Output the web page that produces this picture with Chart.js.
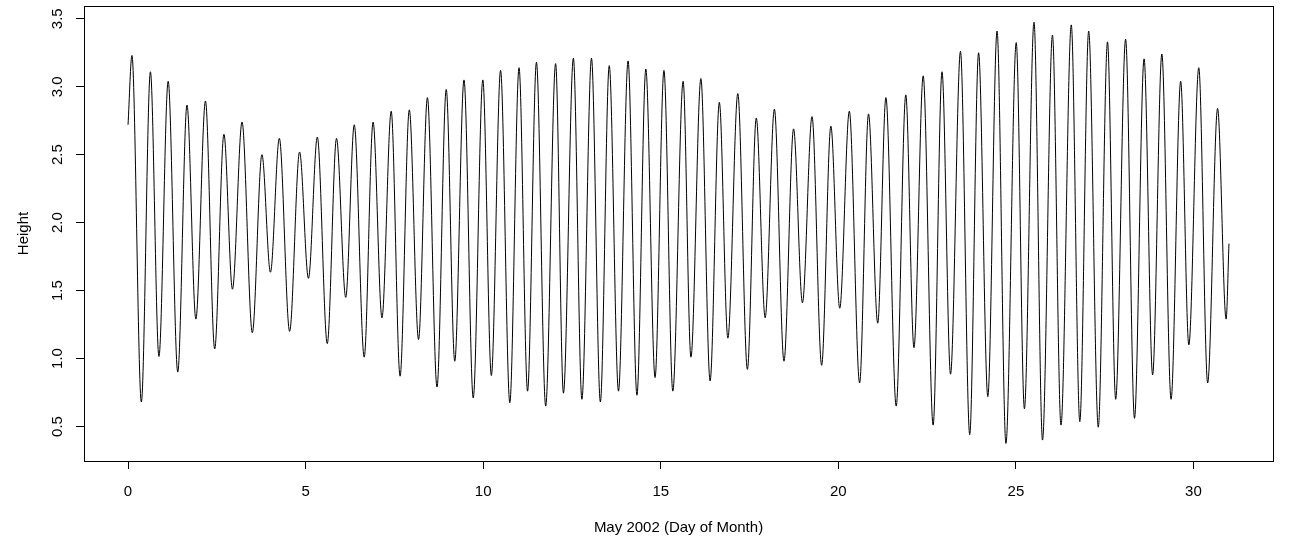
<!DOCTYPE html>
<html>
<head>
<meta charset="utf-8">
<script src="https://cdn.jsdelivr.net/npm/chart.js@4.4.1/dist/chart.umd.min.js"></script>
<style>
  html, body { margin: 0; padding: 0; background: #fff; }
  #wrap { width: 1294px; height: 541px; position: relative; }
</style>
</head>
<body>
<div id="wrap"><canvas id="tide"></canvas></div>
<script>
// High / low water turning points for May 2002 (day of month, height)
const dayOfMonth = [
  0.00, 0.11, 0.375, 0.63, 0.87, 1.13, 1.40, 1.66, 1.91, 2.18,
  2.44, 2.70, 2.94, 3.21, 3.50, 3.77, 4.01, 4.26, 4.55, 4.83,
  5.08, 5.33, 5.61, 5.87, 6.13, 6.37, 6.65, 6.90, 7.15, 7.41,
  7.66, 7.92, 8.18, 8.43, 8.70, 8.96, 9.20, 9.46, 9.72, 9.99,
  10.23, 10.49, 10.75, 11.01, 11.25, 11.50, 11.76, 12.04, 12.26, 12.54,
  12.78, 13.05, 13.30, 13.55, 13.81, 14.08, 14.33, 14.58, 14.84, 15.09,
  15.34, 15.63, 15.85, 16.13, 16.39, 16.65, 16.89, 17.17, 17.44, 17.69,
  17.94, 18.20, 18.47, 18.74, 18.99, 19.26, 19.53, 19.79, 20.04, 20.31,
  20.60, 20.85, 21.11, 21.34, 21.63, 21.90, 22.13, 22.39, 22.67, 22.92,
  23.16, 23.44, 23.70, 23.95, 24.21, 24.47, 24.72, 25.01, 25.24, 25.51,
  25.75, 26.03, 26.27, 26.56, 26.80, 27.05, 27.32, 27.58, 27.81, 28.09,
  28.34, 28.61, 28.85, 29.11, 29.37, 29.64, 29.87, 30.15, 30.40, 30.68,
  30.92, 31.00
];
const height = [
  2.72, 3.23, 0.68, 3.11, 1.015, 3.04, 0.90, 2.865, 1.29, 2.895,
  1.07, 2.65, 1.51, 2.74, 1.19, 2.50, 1.635, 2.62, 1.20, 2.52,
  1.59, 2.63, 1.11, 2.62, 1.45, 2.72, 1.01, 2.74, 1.30, 2.82,
  0.87, 2.83, 1.14, 2.92, 0.79, 2.98, 0.98, 3.05, 0.71, 3.05,
  0.875, 3.12, 0.675, 3.14, 0.76, 3.18, 0.65, 3.17, 0.745, 3.21,
  0.70, 3.21, 0.68, 3.155, 0.76, 3.19, 0.73, 3.13, 0.86, 3.12,
  0.76, 3.04, 1.01, 3.06, 0.835, 2.885, 1.15, 2.95, 0.92, 2.77,
  1.30, 2.835, 0.98, 2.69, 1.41, 2.78, 0.95, 2.71, 1.37, 2.82,
  0.82, 2.80, 1.26, 2.92, 0.65, 2.94, 1.08, 3.08, 0.51, 3.11,
  0.885, 3.26, 0.44, 3.25, 0.72, 3.41, 0.375, 3.325, 0.63, 3.475,
  0.40, 3.38, 0.51, 3.455, 0.535, 3.41, 0.495, 3.33, 0.70, 3.35,
  0.56, 3.205, 0.88, 3.24, 0.70, 3.04, 1.10, 3.14, 0.82, 2.84,
  1.29, 1.845
];

const xTicks = [0, 5, 10, 15, 20, 25, 30];
const yTicks = [0.5, 1.0, 1.5, 2.0, 2.5, 3.0, 3.5];

const axisFont = { family: 'Liberation Sans, Arial, sans-serif', size: 15 };

// plain frame round the plotting region
const boxPlugin = {
  id: 'frameBox',
  afterDraw(chart) {
    const { ctx, chartArea: a } = chart;
    ctx.save();
    ctx.strokeStyle = '#000';
    ctx.lineWidth = 1;
    ctx.strokeRect(Math.round(a.left) + 0.5, Math.round(a.top) + 0.5,
      Math.round(a.right - a.left), Math.round(a.bottom - a.top));
    ctx.restore();
  }
};

new Chart(document.getElementById('tide'), {
  type: 'line',
  data: {
    datasets: [{
      data: dayOfMonth.map((d, i) => ({ x: d, y: height[i] })),
      borderColor: '#000',
      borderWidth: 1,
      pointRadius: 0,
      fill: false,
      cubicInterpolationMode: 'monotone'
    }]
  },
  options: {
    responsive: true,
    maintainAspectRatio: false,
    animation: false,
    layout: { padding: { top: 6, right: 21, bottom: 0, left: 0 } },
    plugins: { legend: { display: false }, tooltip: { enabled: false } },
    scales: {
      x: {
        type: 'linear',
        min: -1.24,
        max: 32.24,
        afterBuildTicks: s => { s.ticks = xTicks.map(v => ({ value: v })); },
        afterFit: s => { s.height = 80; s.paddingLeft = 0; s.paddingRight = 0; },
        border: { display: false },
        grid: { drawOnChartArea: false, drawTicks: true, tickLength: 8, color: '#000' },
        ticks: { font: axisFont, color: '#000', padding: 14, callback: v => String(v) },
        title: {
          display: true, text: 'May 2002 (Day of Month)',
          font: axisFont, color: '#000', padding: { top: 0, bottom: 4 }
        }
      },
      y: {
        type: 'linear',
        min: 0.246,
        max: 3.594,
        afterBuildTicks: s => { s.ticks = yTicks.map(v => ({ value: v })); },
        afterFit: s => { s.width = 84; s.paddingTop = 0; s.paddingBottom = 0; },
        border: { display: false },
        grid: { drawOnChartArea: false, drawTicks: true, tickLength: 8, color: '#000' },
        ticks: {
          font: axisFont, color: '#000', padding: 8,
          minRotation: 90, maxRotation: 90, crossAlign: 'center',
          callback: v => v.toFixed(1)
        },
        title: {
          display: true, text: 'Height',
          font: axisFont, color: '#000', padding: { top: 15, bottom: 0 }
        }
      }
    }
  },
  plugins: [boxPlugin]
});
</script>
</body>
</html>
